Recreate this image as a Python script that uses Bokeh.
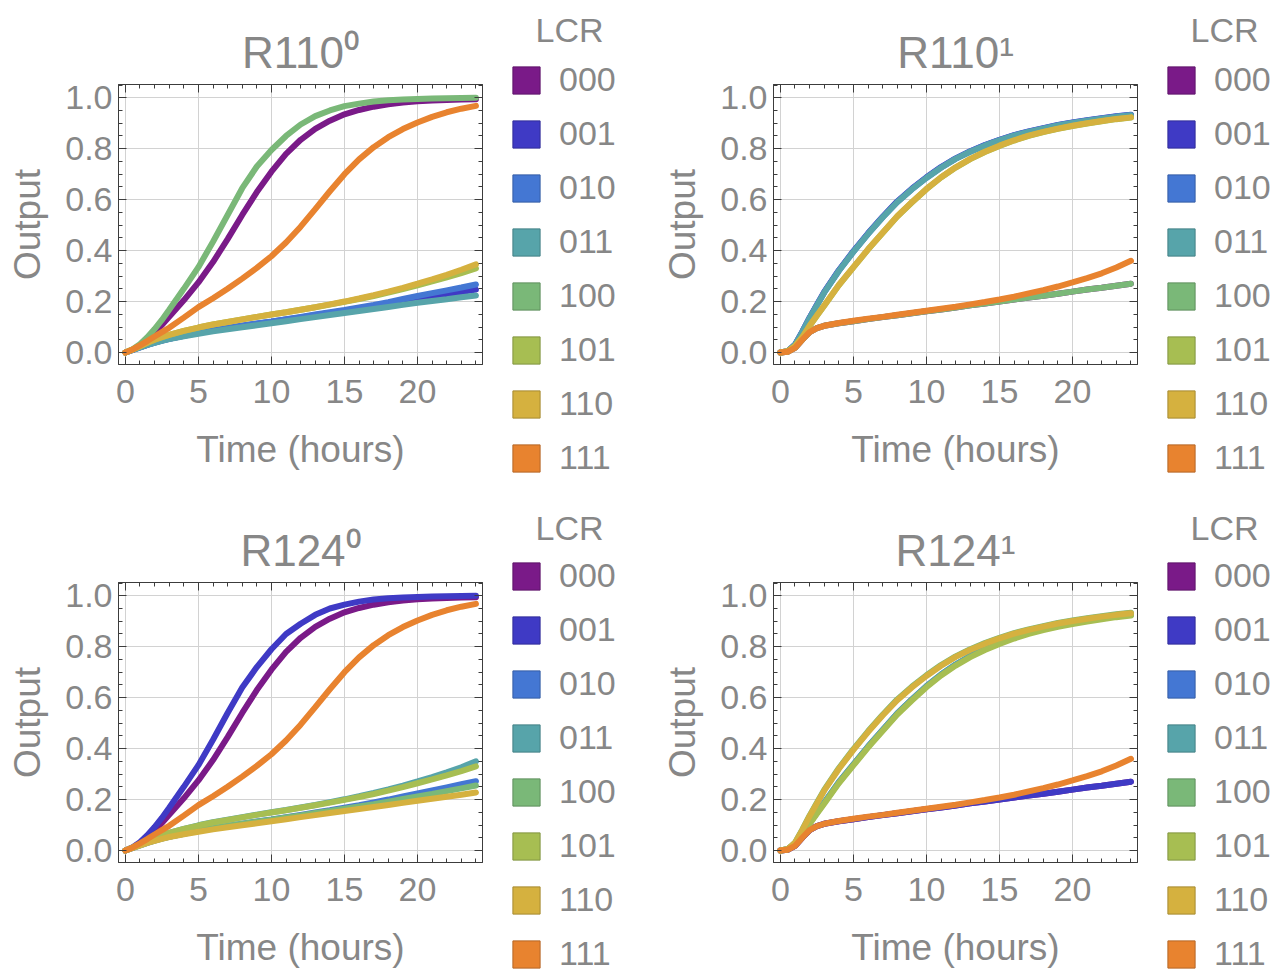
from bokeh.plotting import figure
from bokeh.models import (Range1d, LinearAxis, Legend, LegendItem, Label, FixedTicker,
                          CustomJSTickFormatter)
from bokeh.layouts import column, row
from bokeh.embed import file_html
from bokeh.resources import INLINE

# ---------------- data ----------------
T = [0, 0.5, 1, 1.5, 2, 2.5, 3, 4, 5, 6, 7, 8, 9, 10, 11, 12, 13, 14, 15, 16,
     17, 18, 19, 20, 21, 22, 23, 24]

CODES = ["000", "001", "010", "011", "100", "101", "110", "111"]
COLORS = ["#7A1A88", "#3F3AC5", "#4477D3", "#57A4AA", "#7AB878", "#A7BE52", "#D5B13F", "#E8832F"]
EDGES = ["#5f146a", "#312d99", "#355da5", "#448085", "#5f8f5d", "#829440", "#a68a31", "#b56625"]

TITLES = ["R110\u2070", "R110\u00b9", "R124\u2070", "R124\u00b9"]
LEGEND_TITLE = "LCR"

XTICKS = [0, 5, 10, 15, 20]
XMINOR = list(range(0, 25))
YTICKS = [0.0, 0.2, 0.4, 0.6, 0.8, 1.0]
YLABELS = ["0.0", "0.2", "0.4", "0.6", "0.8", "1.0"]
YMINOR = [i * 0.05 for i in range(0, 22)]

# R110^0
r110_0_000 = [0, .01, .027, .05, .078, .108, .14, .205, .275, .355, .445, .54, .63, .71, .78, .835, .878, .91, .935, .952, .965, .974, .981, .986, .989, .991, .993, .994]
r110_0_001 = [0, .01, .02, .03, .039, .047, .054, .066, .077, .087, .096, .105, .113, .121, .13, .138, .147, .155, .164, .173, .182, .191, .2, .209, .218, .228, .237, .247]
r110_0_010 = [0, .01, .02, .03, .039, .047, .054, .066, .077, .087, .096, .105, .114, .122, .131, .14, .149, .158, .167, .177, .187, .198, .21, .222, .233, .244, .255, .267]
r110_0_011 = [0, .01, .02, .03, .038, .046, .053, .064, .074, .083, .091, .099, .107, .115, .123, .131, .139, .147, .155, .163, .171, .179, .187, .195, .202, .209, .217, .224]
r110_0_100 = [0, .013, .033, .06, .092, .128, .168, .25, .335, .435, .54, .645, .73, .795, .85, .895, .928, .95, .967, .977, .985, .99, .993, .995, .997, .998, .999, 1.0]
r110_0_101 = [0, .012, .025, .038, .05, .06, .069, .085, .098, .11, .12, .13, .14, .149, .158, .168, .178, .188, .199, .21, .222, .235, .249, .264, .279, .295, .312, .33]
r110_0_110 = [0, .012, .025, .038, .05, .06, .069, .085, .098, .11, .12, .13, .14, .149, .158, .168, .178, .189, .2, .212, .225, .239, .254, .27, .287, .305, .325, .346]
r110_0_111 = [0, .012, .028, .045, .063, .08, .097, .137, .178, .213, .25, .29, .332, .378, .432, .494, .563, .633, .7, .758, .806, .845, .877, .903, .925, .943, .957, .968]

# R110^1
r110_1_000 = [0, .003, .018, .05, .08, .096, .105, .115, .123, .131, .139, .146, .154, .162, .169, .177, .185, .192, .2, .208, .216, .223, .231, .239, .247, .254, .262, .27]
r110_1_001 = [0, .005, .031, .082, .137, .188, .238, .323, .398, .468, .533, .593, .643, .688, .728, .762, .79, .814, .835, .853, .868, .881, .893, .903, .912, .92, .927, .933]
r110_1_010 = [0, .005, .03, .081, .136, .186, .236, .321, .396, .466, .531, .591, .641, .686, .726, .761, .789, .813, .834, .852, .867, .88, .892, .902, .911, .919, .926, .932]
r110_1_011 = [0, .005, .03, .08, .135, .185, .235, .32, .395, .465, .53, .59, .64, .685, .725, .76, .788, .812, .833, .851, .866, .879, .891, .901, .91, .918, .925, .931]
r110_1_100 = [0, .003, .018, .05, .08, .096, .105, .115, .123, .131, .139, .146, .154, .162, .169, .177, .185, .192, .2, .208, .216, .223, .231, .239, .247, .254, .262, .27]
r110_1_101 = [0, .005, .025, .06, .104, .144, .184, .264, .334, .404, .469, .534, .589, .641, .687, .726, .759, .787, .811, .832, .85, .865, .878, .889, .899, .908, .916, .922]
r110_1_110 = [0, .005, .025, .06, .105, .145, .185, .265, .335, .405, .47, .535, .59, .642, .688, .727, .76, .788, .812, .833, .851, .866, .879, .89, .9, .909, .917, .923]
r110_1_111 = [0, .003, .018, .05, .08, .096, .105, .116, .125, .133, .14, .148, .156, .164, .172, .18, .189, .198, .208, .219, .232, .245, .259, .275, .292, .311, .334, .36]

# R124^0
r124_0_000 = [0, .01, .027, .05, .078, .108, .14, .205, .275, .355, .445, .54, .63, .71, .78, .835, .878, .91, .935, .952, .965, .974, .981, .986, .989, .991, .993, .994]
r124_0_001 = [0, .013, .033, .06, .092, .128, .168, .25, .335, .435, .54, .64, .72, .79, .85, .89, .925, .95, .965, .977, .985, .99, .993, .995, .997, .998, .999, 1.0]
r124_0_010 = [0, .01, .02, .03, .039, .047, .054, .066, .077, .087, .096, .105, .114, .122, .131, .14, .149, .158, .168, .178, .189, .2, .212, .224, .236, .248, .26, .272]
r124_0_011 = [0, .012, .025, .038, .05, .06, .069, .085, .099, .111, .121, .131, .141, .15, .159, .169, .179, .19, .201, .213, .226, .24, .255, .271, .288, .307, .327, .35]
r124_0_100 = [0, .01, .02, .03, .039, .047, .054, .066, .077, .087, .096, .105, .113, .121, .13, .138, .147, .155, .164, .173, .182, .192, .202, .212, .222, .233, .244, .255]
r124_0_101 = [0, .012, .025, .038, .05, .06, .069, .085, .098, .11, .12, .13, .14, .149, .158, .168, .178, .188, .199, .21, .222, .235, .249, .264, .279, .295, .312, .33]
r124_0_110 = [0, .01, .02, .03, .038, .046, .053, .064, .074, .083, .091, .099, .107, .115, .123, .131, .139, .147, .155, .163, .171, .179, .187, .195, .203, .211, .219, .228]
r124_0_111 = [0, .012, .028, .045, .063, .08, .097, .137, .178, .213, .25, .29, .332, .378, .432, .494, .563, .633, .7, .758, .806, .845, .877, .903, .925, .943, .957, .968]

# R124^1
r124_1_000 = [0, .003, .018, .05, .08, .096, .105, .115, .123, .131, .139, .146, .154, .162, .169, .177, .185, .192, .2, .208, .216, .223, .231, .239, .247, .254, .262, .27]
r124_1_001 = [0, .003, .018, .05, .08, .096, .105, .115, .123, .131, .139, .146, .154, .162, .169, .177, .185, .192, .2, .208, .216, .223, .231, .239, .247, .254, .262, .27]
r124_1_010 = [0, .005, .026, .062, .107, .148, .188, .268, .338, .408, .473, .538, .593, .645, .691, .73, .763, .791, .815, .836, .854, .869, .882, .893, .903, .912, .92, .926]
r124_1_011 = [0, .005, .026, .062, .107, .148, .188, .268, .338, .408, .473, .538, .593, .645, .691, .73, .763, .791, .815, .836, .854, .869, .882, .893, .903, .912, .92, .926]
r124_1_100 = [0, .005, .031, .082, .137, .188, .238, .323, .398, .468, .533, .593, .643, .688, .728, .762, .79, .814, .835, .853, .868, .881, .893, .903, .912, .92, .927, .933]
r124_1_101 = [0, .005, .025, .06, .104, .144, .184, .264, .334, .404, .469, .534, .589, .641, .687, .726, .759, .787, .811, .832, .85, .865, .878, .889, .899, .908, .916, .922]
r124_1_110 = [0, .005, .03, .08, .135, .185, .235, .32, .395, .465, .53, .59, .64, .685, .725, .76, .788, .812, .833, .851, .866, .879, .891, .901, .91, .918, .925, .931]
r124_1_111 = [0, .003, .018, .05, .08, .096, .105, .116, .125, .133, .14, .148, .156, .164, .172, .18, .189, .198, .208, .219, .232, .245, .259, .275, .292, .311, .334, .36]

PANELS = [
    [r110_0_000, r110_0_001, r110_0_010, r110_0_011, r110_0_100, r110_0_101, r110_0_110, r110_0_111],
    [r110_1_000, r110_1_001, r110_1_010, r110_1_011, r110_1_100, r110_1_101, r110_1_110, r110_1_111],
    [r124_0_000, r124_0_001, r124_0_010, r124_0_011, r124_0_100, r124_0_101, r124_0_110, r124_0_111],
    [r124_1_000, r124_1_001, r124_1_010, r124_1_011, r124_1_100, r124_1_101, r124_1_110, r124_1_111],
]

# ---------------- style ----------------
FONT = "Liberation Sans"
GRAY = "#878787"
FRAME = "#3c3c3c"
GRID = "#d2d2d2"
BLANK = CustomJSTickFormatter(code="return ''")
NAN = float("nan")


def style_axis(ax, labels=True):
    ax.axis_line_color = FRAME
    ax.major_tick_line_color = FRAME
    ax.minor_tick_line_color = FRAME
    ax.major_tick_in = 8
    ax.major_tick_out = 0
    ax.minor_tick_in = 4
    ax.minor_tick_out = 0
    if labels:
        ax.major_label_text_font = FONT
        ax.major_label_text_font_size = "34px"
        ax.major_label_text_color = GRAY
        ax.axis_label_text_font = FONT
        ax.axis_label_text_font_size = "37px"
        ax.axis_label_text_font_style = "normal"
        ax.axis_label_text_color = GRAY
    else:
        ax.formatter = BLANK
        ax.major_label_standoff = 0


def make_panel(idx, width, height, bl, br, bt, bb):
    p = figure(width=width, height=height, output_backend="svg", toolbar_location=None,
               x_range=Range1d(-0.47, 24.45), y_range=Range1d(-0.047, 1.052),
               min_border_left=bl, min_border_right=br, min_border_top=bt, min_border_bottom=bb,
               x_axis_label="Time (hours)", y_axis_label="Output", title=TITLES[idx])
    p.title.align = "center"
    p.title.text_font = FONT
    p.title.text_font_size = "44px"
    p.title.text_font_style = "normal"
    p.title.text_color = GRAY
    p.title.standoff = 16
    p.outline_line_color = FRAME
    p.background_fill_color = "white"
    p.border_fill_color = "white"

    p.xaxis.ticker = FixedTicker(ticks=XTICKS, minor_ticks=XMINOR)
    p.yaxis.ticker = FixedTicker(ticks=YTICKS, minor_ticks=YMINOR)
    p.yaxis.major_label_overrides = {v: s for v, s in zip(YTICKS, YLABELS)}
    p.xaxis.major_label_standoff = 15
    p.yaxis.major_label_standoff = 6
    p.xaxis.axis_label_standoff = 23
    p.yaxis.axis_label_standoff = 14
    style_axis(p.xaxis[0])
    style_axis(p.yaxis[0])

    top = LinearAxis(ticker=FixedTicker(ticks=XTICKS, minor_ticks=XMINOR))
    style_axis(top, labels=False)
    p.add_layout(top, "above")
    right = LinearAxis(ticker=FixedTicker(ticks=YTICKS, minor_ticks=YMINOR))
    style_axis(right, labels=False)
    p.add_layout(right, "right")

    p.xgrid.grid_line_color = GRID
    p.ygrid.grid_line_color = GRID

    for vals, c in zip(PANELS[idx], COLORS):
        p.line(T, vals, line_width=6, line_color=c, line_cap="round")
    return p


def make_legend(width, height, loc_y, title_y):
    q = figure(width=width, height=height, output_backend="svg", toolbar_location=None,
               x_range=Range1d(0, width), y_range=Range1d(0, height), title=None,
               x_axis_type=None, y_axis_type=None, min_border=0, frame_align=False)
    q.outline_line_color = None
    q.grid.visible = False
    items = []
    for code, c, e in zip(CODES, COLORS, EDGES):
        r = q.quad(left=[NAN], right=[NAN], top=[NAN], bottom=[NAN],
                   fill_color=c, line_color=e, line_width=1)
        items.append(LegendItem(label=code, renderers=[r]))
    legend = Legend(items=items, location=(20, loc_y),
                    glyph_width=34, glyph_height=34, label_height=37, label_standoff=16, spacing=15,
                    padding=0, margin=0, border_line_color=None, background_fill_alpha=0,
                    label_text_font=FONT, label_text_font_size="34px", label_text_color=GRAY)
    q.add_layout(legend)
    q.add_layout(Label(x=80, y=title_y, text=LEGEND_TITLE, text_align="center",
                       text_baseline="middle", text_font=FONT, text_font_size="34px",
                       text_color=GRAY))
    return q


p1 = make_panel(0, 489, 505, 118, 7, 84, 141)
p2 = make_panel(1, 487, 505, 116, 7, 84, 141)
p3 = make_panel(2, 489, 466, 118, 7, 77, 109)
p4 = make_panel(3, 487, 466, 116, 7, 77, 109)
l1 = make_legend(168, 505, 28, 476)
l2 = make_legend(134, 505, 28, 476)
l3 = make_legend(168, 466, -2, 444)
l4 = make_legend(134, 466, -2, 444)

layout = column(row(p1, l1, p2, l2), row(p3, l3, p4, l4))
open("out.html", "w").write(file_html(layout, INLINE))
